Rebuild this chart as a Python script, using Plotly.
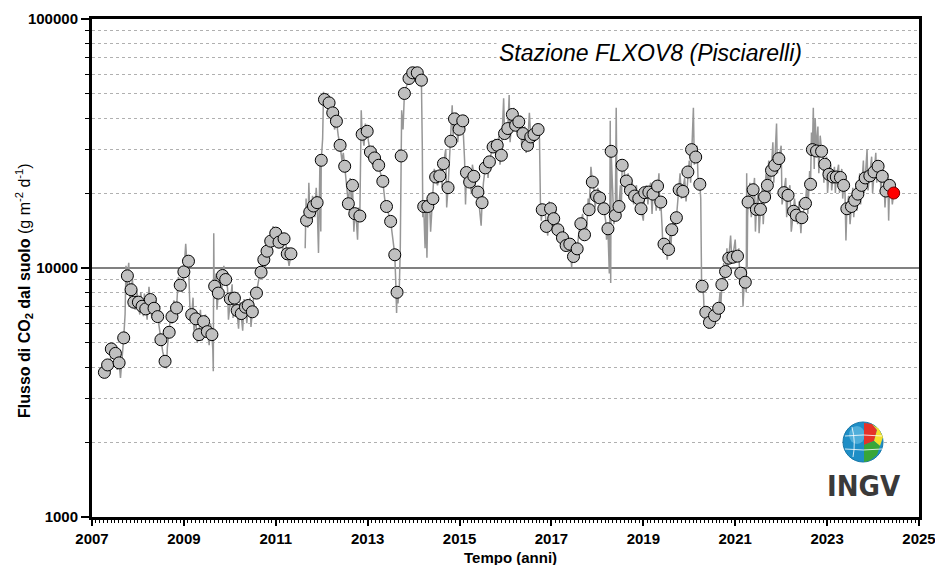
import numpy as np
import plotly.graph_objects as go

# Periodic mean soil CO2 flux (decimal year, g m-2 d-1)
mean_t = [
    2007.27, 2007.34, 2007.42, 2007.51, 2007.59, 2007.69, 2007.77, 2007.85, 2007.91,
    2008.01, 2008.09, 2008.17, 2008.27, 2008.35, 2008.43, 2008.50, 2008.59, 2008.68,
    2008.74, 2008.84, 2008.92, 2009.00, 2009.10, 2009.17, 2009.26, 2009.33, 2009.43,
    2009.51, 2009.61, 2009.67, 2009.75, 2009.84, 2009.91, 2010.01, 2010.10, 2010.16,
    2010.25, 2010.34, 2010.40, 2010.49, 2010.58, 2010.68, 2010.74, 2010.81, 2010.89,
    2011.00, 2011.07, 2011.18, 2011.25, 2011.33, 2011.67, 2011.74, 2011.82, 2011.90,
    2011.99, 2012.06, 2012.16, 2012.24, 2012.32, 2012.40, 2012.50, 2012.58, 2012.67,
    2012.72, 2012.83, 2012.88, 2012.99, 2013.06, 2013.15, 2013.24, 2013.33, 2013.41,
    2013.50, 2013.59, 2013.64, 2013.73, 2013.80, 2013.90, 2013.98, 2014.08, 2014.17,
    2014.22, 2014.31, 2014.42, 2014.48, 2014.57, 2014.65, 2014.75, 2014.81, 2014.89,
    2014.99, 2015.07, 2015.15, 2015.22, 2015.31, 2015.40, 2015.49, 2015.56, 2015.65,
    2015.73, 2015.82, 2015.91, 2015.98, 2016.05, 2016.15, 2016.22, 2016.29, 2016.38,
    2016.48, 2016.55, 2016.62, 2016.71, 2016.80, 2016.89, 2016.98, 2017.05, 2017.14,
    2017.24, 2017.32, 2017.40, 2017.48, 2017.56, 2017.64, 2017.72, 2017.82, 2017.89,
    2017.98, 2018.05, 2018.14, 2018.23, 2018.30, 2018.39, 2018.47, 2018.54, 2018.63,
    2018.72, 2018.81, 2018.90, 2018.95, 2019.03, 2019.12, 2019.21, 2019.31, 2019.38,
    2019.45, 2019.55, 2019.62, 2019.72, 2019.78, 2019.86, 2019.97, 2020.05, 2020.14,
    2020.23, 2020.28, 2020.36, 2020.44, 2020.55, 2020.64, 2020.71, 2020.79, 2020.86,
    2020.95, 2021.05, 2021.12, 2021.22, 2021.28, 2021.39, 2021.46, 2021.55, 2021.64,
    2021.70, 2021.79, 2021.86, 2021.95, 2022.06, 2022.15, 2022.27, 2022.33, 2022.45,
    2022.53, 2022.64, 2022.68, 2022.77, 2022.88, 2022.95, 2023.04, 2023.13, 2023.20,
    2023.29, 2023.36, 2023.43, 2023.53, 2023.60, 2023.67, 2023.75, 2023.83, 2023.93,
    2024.02, 2024.11, 2024.20, 2024.28, 2024.36,
]
mean_v = [
    3810, 4080, 4730, 4540, 4160, 5240, 9300, 8180, 7290,
    7290, 7020, 6850, 7470, 6890, 6380, 5150, 4220, 5520,
    6380, 6910, 8530, 9650, 10650, 6500, 6250, 5400, 6090,
    5550, 5400, 8450, 7930, 9330, 8990, 7520, 7570, 6750,
    6560, 6960, 7070, 6670, 7930, 9620, 10800, 11680, 12820,
    13800, 12700, 13100, 11400, 11400, 15540, 16780, 17740, 18300,
    27080, 47500, 46050, 41980, 38860, 31100, 25620, 18120, 21470,
    16530, 16170, 34440, 35410, 29240, 27670, 25860, 22290, 17660,
    15390, 11300, 7990, 28180, 50230, 57700, 60800, 60800, 56800,
    17660, 17660, 18980, 23200, 23440, 26250, 21020, 32300, 39700,
    36070, 38990, 24170, 22140, 23350, 20180, 18300, 25240, 26680,
    30620, 31100, 28370, 34670, 36310, 41360, 37440, 38620, 34670,
    31100, 33600, 34370, 35980, 17140, 14690, 17300, 15780, 14250,
    13220, 12310, 12470, 11120, 11940, 15060, 13600, 17140, 22140,
    19450, 19120, 17300, 14370, 29420, 16270, 17660, 25860, 22350,
    20500, 19450, 18980, 17300, 20070, 20180, 19800, 21330, 18400,
    12470, 11870, 14250, 15920, 20620, 20320, 24300, 29880, 27900,
    21690, 8450, 6640, 6050, 6440, 6890, 8580, 9680, 10950,
    11050, 11160, 9530, 8770, 18400, 20620, 17200, 17200, 19300,
    21470, 24680, 25860, 27500, 20070, 19580, 16900, 16300, 15920,
    18170, 21690, 29880, 29500, 29420, 26100, 23780, 23200, 23200,
    23100, 21470, 17300, 17660, 18700, 19800, 21470, 23000, 23440,
    24300, 25620, 23350, 20370, 21470,
]

# Most recent measurement
latest_t = 2024.45
latest_v = 20000

# Individual daily readings between the means (decimal year, flux)
daily_readings = [
    (2007.30, 4150), (2007.38, 3750), (2007.46, 5000), (2007.55, 3900), (2007.62, 3620),
    (2007.72, 6500), (2007.74, 10200), (2007.76, 7800), (2007.80, 10500), (2007.83, 7000),
    (2007.88, 9000), (2007.94, 6800), (2007.97, 8200), (2008.04, 6500), (2008.06, 8000),
    (2008.12, 6400), (2008.14, 7900), (2008.20, 6200), (2008.24, 8400), (2008.30, 6300),
    (2008.38, 7600), (2008.46, 5800), (2008.54, 4600), (2008.62, 3950), (2008.64, 4800),
    (2008.70, 6100), (2008.78, 7400), (2008.88, 9200), (2008.96, 8000), (2009.04, 12500),
    (2009.08, 9500), (2009.13, 7000), (2009.20, 7600), (2009.22, 5600), (2009.29, 5000),
    (2009.36, 6800), (2009.40, 5100), (2009.47, 6500), (2009.55, 4900), (2009.58, 6000),
    (2009.63, 4700), (2009.64, 3850), (2009.65, 13800), (2009.66, 7500), (2009.70, 9500),
    (2009.72, 6800), (2009.78, 9400), (2009.81, 7700), (2009.87, 10200), (2009.95, 8300),
    (2009.97, 6200), (2010.05, 8600), (2010.07, 6300), (2010.13, 7600), (2010.19, 5700),
    (2010.22, 7300), (2010.28, 5600), (2010.31, 7500), (2010.37, 6000), (2010.44, 7600),
    (2010.46, 5800), (2010.53, 8200), (2010.63, 9000), (2010.71, 11500), (2010.77, 10000),
    (2010.85, 13000), (2010.94, 14700), (2011.03, 13200), (2011.12, 14000), (2011.15, 11800),
    (2011.22, 12500), (2011.29, 10200),
    (2011.64, 12000), (2011.66, 19000), (2011.70, 14500), (2011.72, 22000), (2011.77, 15500),
    (2011.80, 19500), (2011.85, 16000), (2011.88, 21000), (2011.93, 11500), (2011.96, 26000),
    (2011.98, 14000), (2012.02, 33000), (2012.04, 51000), (2012.10, 44000), (2012.13, 49000),
    (2012.20, 40000), (2012.28, 36000), (2012.36, 34000), (2012.44, 27000), (2012.47, 29000),
    (2012.54, 21000), (2012.62, 23000), (2012.65, 17500), (2012.70, 14000), (2012.76, 15000),
    (2012.78, 13000), (2012.80, 17500), (2012.86, 43000), (2012.92, 31000), (2012.95, 38000),
    (2013.02, 32000), (2013.10, 26000), (2013.12, 31000), (2013.19, 24500), (2013.21, 28000),
    (2013.28, 24000), (2013.37, 19000), (2013.45, 16500), (2013.55, 13000), (2013.61, 9000),
    (2013.63, 6600), (2013.66, 7200), (2013.69, 8500), (2013.71, 12000), (2013.74, 43000),
    (2013.77, 36000), (2013.85, 54000), (2013.94, 63000), (2014.03, 58000), (2014.12, 62000),
    (2014.15, 55000), (2014.19, 30000), (2014.20, 16000), (2014.25, 12000), (2014.27, 18500),
    (2014.29, 11000), (2014.34, 20000), (2014.37, 14000), (2014.45, 25000), (2014.52, 21500),
    (2014.60, 27000), (2014.62, 21000), (2014.70, 30000), (2014.72, 17500), (2014.78, 27000),
    (2014.84, 45000), (2014.86, 34000), (2014.93, 42000), (2014.96, 32000), (2015.02, 40000),
    (2015.11, 27000), (2015.13, 18000), (2015.18, 25500), (2015.26, 20000), (2015.28, 26000),
    (2015.35, 21000), (2015.44, 17000), (2015.47, 14800), (2015.52, 22000), (2015.60, 28000),
    (2015.62, 23000), (2015.69, 29000), (2015.77, 33000), (2015.80, 27500), (2015.86, 34000),
    (2015.88, 26000), (2015.94, 40000), (2015.96, 48000), (2016.02, 33000), (2016.08, 49500),
    (2016.10, 32000), (2016.18, 44000), (2016.25, 35000), (2016.33, 41000), (2016.35, 31000),
    (2016.42, 37000), (2016.45, 29000), (2016.52, 42000), (2016.58, 31000), (2016.66, 37000),
    (2016.74, 33000), (2016.76, 18500), (2016.78, 15500), (2016.85, 18000), (2016.92, 13500),
    (2016.95, 18500), (2017.02, 14200), (2017.09, 17000), (2017.11, 13500), (2017.19, 14800),
    (2017.28, 12000), (2017.36, 13500), (2017.44, 10100), (2017.46, 11800), (2017.52, 11000),
    (2017.60, 14000), (2017.68, 16500), (2017.70, 13000), (2017.77, 14500), (2017.80, 19000),
    (2017.86, 25500), (2017.93, 20500), (2017.95, 17500), (2018.01, 21000), (2018.09, 18000),
    (2018.11, 20000), (2018.18, 15500), (2018.20, 13000), (2018.26, 9500), (2018.27, 15000),
    (2018.28, 39000), (2018.29, 8700), (2018.33, 21000), (2018.36, 15000), (2018.41, 44000),
    (2018.43, 16000), (2018.50, 21500), (2018.52, 17000), (2018.58, 27000), (2018.60, 20500),
    (2018.67, 24000), (2018.70, 19000), (2018.76, 22000), (2018.79, 18000), (2018.85, 21500),
    (2018.88, 17000), (2019.00, 15500), (2019.07, 21500), (2019.10, 18000), (2019.16, 22000),
    (2019.19, 16500), (2019.25, 22000), (2019.28, 17000), (2019.34, 24000), (2019.36, 17000),
    (2019.41, 14500), (2019.43, 11500), (2019.49, 13000), (2019.52, 10800), (2019.58, 13500),
    (2019.60, 12000), (2019.66, 16000), (2019.68, 13500), (2019.75, 18500), (2019.80, 24000),
    (2019.83, 19000), (2019.90, 23000), (2019.93, 18500), (2020.00, 27000), (2020.03, 22000),
    (2020.09, 44000), (2020.11, 26000), (2020.17, 31000), (2020.19, 23000), (2020.25, 19000),
    (2020.26, 11000), (2020.27, 8000), (2020.31, 7800), (2020.33, 6300), (2020.40, 6900),
    (2020.42, 5700), (2020.48, 6400), (2020.52, 5800), (2020.60, 7200), (2020.67, 8000),
    (2020.69, 7200), (2020.75, 10500), (2020.77, 8300), (2020.82, 12000), (2020.84, 9800),
    (2020.90, 13500), (2020.93, 10500), (2021.00, 13000), (2021.02, 11000), (2021.08, 12000),
    (2021.10, 8600), (2021.15, 9800), (2021.17, 7000), (2021.19, 8300), (2021.24, 8000),
    (2021.25, 24000), (2021.26, 10000), (2021.27, 16000), (2021.32, 22000), (2021.35, 16000),
    (2021.42, 23000), (2021.44, 14000), (2021.50, 20500), (2021.52, 13800), (2021.59, 21000),
    (2021.61, 15000), (2021.67, 24000), (2021.73, 27000), (2021.75, 19000), (2021.82, 32000),
    (2021.84, 22000), (2021.90, 38000), (2021.92, 24000), (2022.00, 31000), (2022.02, 18000),
    (2022.10, 23000), (2022.12, 16000), (2022.19, 21500), (2022.22, 14000), (2022.29, 19000),
    (2022.36, 15000), (2022.39, 18500), (2022.43, 13800), (2022.49, 17000), (2022.56, 22000),
    (2022.58, 16500), (2022.62, 24500), (2022.66, 35000), (2022.70, 44000), (2022.72, 25000),
    (2022.74, 40000), (2022.80, 37000), (2022.82, 24000), (2022.85, 34000), (2022.91, 31000),
    (2022.93, 22000), (2022.99, 28000), (2023.01, 20000), (2023.08, 26000), (2023.10, 20500),
    (2023.16, 25500), (2023.18, 20000), (2023.25, 26000), (2023.27, 20000), (2023.32, 25000),
    (2023.34, 19000), (2023.39, 20000), (2023.41, 12900), (2023.47, 19500), (2023.50, 15000),
    (2023.56, 21000), (2023.58, 16000), (2023.63, 22000), (2023.65, 17000), (2023.71, 24000),
    (2023.73, 18000), (2023.79, 27000), (2023.81, 20000), (2023.87, 30000), (2023.89, 20500),
    (2023.97, 28000), (2023.99, 20000), (2024.06, 29000), (2024.08, 22000), (2024.15, 27000),
    (2024.17, 20500), (2024.24, 22500), (2024.26, 17500), (2024.32, 24000), (2024.34, 15500),
    (2024.40, 20500), (2024.42, 18000),
]

# Periods without data (the daily line is broken there)
gap_years = [2011.5]

x_tick_years = list(range(2007, 2026, 2))
y_tick_vals = [1000, 10000, 100000]
y_minor_vals = [2000, 3000, 4000, 5000, 6000, 7000, 8000, 9000,
                20000, 30000, 40000, 50000, 60000, 70000, 80000, 90000]

TEXT_FONT = "Liberation Sans, Arial, Helvetica, sans-serif"

# ---- daily series: means + readings merged in time order ----
t_all = np.array(mean_t + [p[0] for p in daily_readings] + [latest_t], dtype=float)
v_all = np.array(mean_v + [p[1] for p in daily_readings] + [latest_v], dtype=float)
order = np.argsort(t_all, kind="stable")
line_t = [float(x) for x in t_all[order]]
line_v = [float(x) for x in v_all[order]]
for g in gap_years:
    idx = next(k for k, tt in enumerate(line_t) if tt is not None and tt > g)
    line_t.insert(idx, None)
    line_v.insert(idx, None)

fig = go.Figure()
fig.add_trace(go.Scatter(
    x=line_t, y=line_v, mode="lines", connectgaps=False,
    line=dict(color="#979797", width=1.5), hoverinfo="skip",
))
fig.add_trace(go.Scatter(
    x=mean_t, y=mean_v, mode="markers",
    marker=dict(size=12, color="#c0c0c0", line=dict(color="black", width=1)),
))
fig.add_trace(go.Scatter(
    x=[latest_t], y=[latest_v], mode="markers",
    marker=dict(size=12, color="#ff0000", line=dict(color="#7a0000", width=1)),
))

# ---- layout ----
L, R, T, B = 92, 16, 19, 48
W, H = 935, 565
pw, ph = W - L - R, H - T - B


def px(x, y):
    """pixel position -> paper coordinates"""
    return (x - L) / pw, (H - B - y) / ph


fig.update_layout(
    width=W, height=H,
    margin=dict(l=L, r=R, t=T, b=B),
    paper_bgcolor="white", plot_bgcolor="white",
    showlegend=False,
    font=dict(family=TEXT_FONT, color="black"),
)

fig.update_xaxes(
    range=[2007, 2025.0005], automargin=False,
    tickmode="array", tickvals=x_tick_years,
    ticktext=[f"<b>{y}</b>" for y in x_tick_years],
    tickfont=dict(size=15, family=TEXT_FONT, color="black"),
    ticklabeloverflow="allow",
    ticks="outside", ticklen=6, tickwidth=1.5, tickcolor="black",
    showline=True, linewidth=3, linecolor="black", mirror=True,
    showgrid=False, zeroline=False,
    minor=dict(ticks="outside", ticklen=3, tickwidth=1, tickcolor="black",
               tick0=2007, dtick=1 / 12, showgrid=False),
)

fig.update_yaxes(
    type="log", range=[3, 5], automargin=False,
    tickmode="array", tickvals=y_tick_vals,
    ticktext=[f"<b>{v}</b>" for v in y_tick_vals],
    tickfont=dict(size=15, family=TEXT_FONT, color="black"),
    ticks="outside", ticklen=8, tickwidth=1.5, tickcolor="black",
    showline=True, linewidth=3, linecolor="black", mirror=True,
    showgrid=True, gridcolor="#808080", gridwidth=2,
    zeroline=False,
    minor=dict(tickmode="array", tickvals=y_minor_vals, ticks="outside",
               ticklen=4, tickwidth=1, tickcolor="black",
               showgrid=True, gridcolor="#b0b0b0", gridwidth=1, griddash="3px,3px"),
)

annotations = []
# station label, boxed white so the grid stops behind it
tx, ty = px(650, 53)
annotations.append(dict(
    x=tx, y=ty, xref="paper", yref="paper", showarrow=False,
    text="<i>Stazione FLXOV8 (Pisciarelli)</i>",
    font=dict(size=23, family=TEXT_FONT, color="black"),
    bgcolor="white", borderpad=2, xanchor="center", yanchor="middle",
))
# axis titles
ax, ay = px(510, 557)
annotations.append(dict(
    x=ax, y=ay, xref="paper", yref="paper", showarrow=False,
    text="<b>Tempo (anni)</b>", font=dict(size=15, family=TEXT_FONT, color="black"),
    xanchor="center", yanchor="middle",
))
yx, yy = px(24, 291)
annotations.append(dict(
    x=yx, y=yy, xref="paper", yref="paper", showarrow=False, textangle=-90,
    text="<b>Flusso di CO<sub>2</sub> dal suolo</b> (g m<sup>-2</sup> d<sup>-1</sup>)",
    font=dict(size=16, family=TEXT_FONT, color="black"),
    xanchor="center", yanchor="middle",
))
# INGV wordmark
ix, iy = px(864, 486)
annotations.append(dict(
    x=ix, y=iy, xref="paper", yref="paper", showarrow=False,
    text="<b>INGV</b>",
    font=dict(size=29, family="DejaVu Sans Condensed, Liberation Sans Narrow, Liberation Sans, sans-serif",
              color="#3a3a3a"),
    xanchor="center", yanchor="middle",
))
fig.update_layout(annotations=annotations)

# INGV globe emblem
cx, cy, r = 863, 442, 20


def poly(points):
    parts = []
    for i, (x, y) in enumerate(points):
        X, Y = px(x, y)
        parts.append(("M" if i == 0 else "L") + f"{X:.5f},{Y:.5f}")
    return " ".join(parts) + " Z"


shapes = []
x0, y0 = px(cx - r, cy + r)
x1, y1 = px(cx + r, cy - r)
shapes.append(dict(type="circle", xref="paper", yref="paper", x0=x0, y0=y0, x1=x1, y1=y1,
                   fillcolor="#1e8ec6", line=dict(color="#1878a8", width=1)))
hx0, hy0 = px(cx - 14, cy + 2)
hx1, hy1 = px(cx + 2, cy - 16)
shapes.append(dict(type="circle", xref="paper", yref="paper", x0=hx0, y0=hy0, x1=hx1, y1=hy1,
                   fillcolor="rgba(120,200,235,0.55)", line=dict(width=0)))
shapes.append(dict(type="path", xref="paper", yref="paper",
                   path=poly([(864, 423), (872, 424), (877, 430), (874, 441), (864, 445)]),
                   fillcolor="#e53228", line=dict(width=0)))
shapes.append(dict(type="path", xref="paper", yref="paper",
                   path=poly([(872, 424), (879, 429), (883, 437), (880, 446), (874, 441), (877, 430)]),
                   fillcolor="#f3e12b", line=dict(width=0)))
shapes.append(dict(type="path", xref="paper", yref="paper",
                   path=poly([(864, 445), (874, 441), (880, 446), (877, 455), (869, 461), (864, 462)]),
                   fillcolor="#38a639", line=dict(width=0)))
# meridian / parallel highlights
for pts in ([(852, 427), (856, 442), (853, 457)], [(845, 436), (863, 434), (882, 436)],
            [(845, 449), (863, 451), (882, 449)]):
    path = ""
    for i, (x, y) in enumerate(pts):
        X, Y = px(x, y)
        path += ("M" if i == 0 else " Q" if i == 1 else " ") + f"{X:.5f},{Y:.5f}"
    shapes.append(dict(type="path", xref="paper", yref="paper", path=path,
                       line=dict(color="rgba(255,255,255,0.8)", width=1)))
fig.update_layout(shapes=shapes)

fig.write_html("out.html")
